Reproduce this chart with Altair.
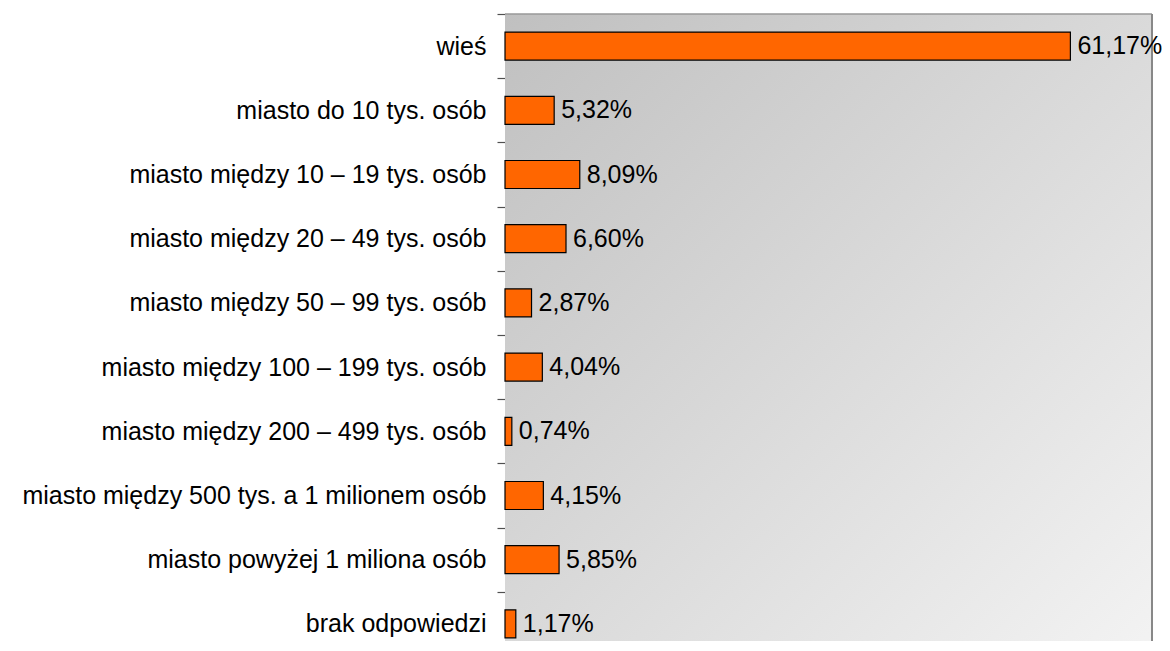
import altair as alt
import pandas as pd

categories = [
    "wieś\u00a0",
    "miasto do 10 tys. osób",
    "miasto między 10 – 19 tys. osób",
    "miasto między 20 – 49 tys. osób",
    "miasto między 50 – 99 tys. osób",
    "miasto między 100 – 199 tys. osób",
    "miasto między 200 – 499 tys. osób",
    "miasto między 500 tys. a 1 milionem osób",
    "miasto powyżej 1 miliona osób",
    "brak odpowiedzi",
]
values = [61.17, 5.32, 8.09, 6.60, 2.87, 4.04, 0.74, 4.15, 5.85, 1.17]
labels = ["61,17%", "5,32%", "8,09%", "6,60%", "2,87%", "4,04%", "0,74%", "4,15%", "5,85%", "1,17%"]

W = 647
H = 627          # visible part of the plot (the rest is cut off, as in the original)
FULL_H = 642     # full band range
FONT = "Liberation Sans"

df = pd.DataFrame({"cat": categories, "val": values, "lab": labels})
one = pd.DataFrame({"a": [0]})

bg = alt.Chart(one).mark_rect(
    fill=alt.Gradient(
        gradient="linear",
        stops=[
            alt.GradientStop(color="#c0c0c0", offset=0),
            alt.GradientStop(color="#f3f3f3", offset=1),
        ],
        x1=0, y1=0, x2=1, y2=1,
    )
).encode(x=alt.value(0), x2=alt.value(W), y=alt.value(0), y2=alt.value(FULL_H))

border = alt.Chart(one).mark_rule(color="#888888", strokeWidth=2).encode(
    x=alt.value(W), y=alt.value(0), y2=alt.value(FULL_H)
)
topborder = alt.Chart(one).mark_rule(color="#999999", strokeWidth=1.5).encode(
    x=alt.value(0), x2=alt.value(W), y=alt.value(0)
)

y_enc = alt.Y(
    "cat:N",
    sort=categories,
    scale=alt.Scale(paddingInner=0, paddingOuter=0, range=[0, FULL_H]),
    axis=alt.Axis(
        title=None,
        tickBand="extent",
        ticks=True,
        tickSize=8,
        labelPadding=11,
        labelFontSize=25,
        labelFont=FONT,
        labelColor="black",
        domainColor="#404040",
        tickColor="#505050",
        tickWidth=1.2,
        labelLimit=0,
        grid=False,
    ),
)
x_enc = alt.X("val:Q", scale=alt.Scale(domain=[0, 70]), axis=None)

bars = alt.Chart(df).mark_bar(size=28, color="#ff6600", stroke="black", strokeWidth=1.2).encode(
    x=x_enc, y=y_enc
)
text = alt.Chart(df).mark_text(
    align="left", baseline="middle", dx=7, fontSize=25, font=FONT, color="black"
).encode(x=x_enc, y=y_enc, text="lab:N")

chart = (
    alt.layer(bg, topborder, border, bars, text)
    .properties(
        width=W,
        height=H,
        autosize=alt.AutoSizeParams(type="none"),
        padding={"left": 497, "top": 6, "right": 10, "bottom": 0},
        background="white",
    )
    .configure_view(stroke=None)
)

chart.save("out.html", embed_options={"renderer": "svg", "actions": False})
